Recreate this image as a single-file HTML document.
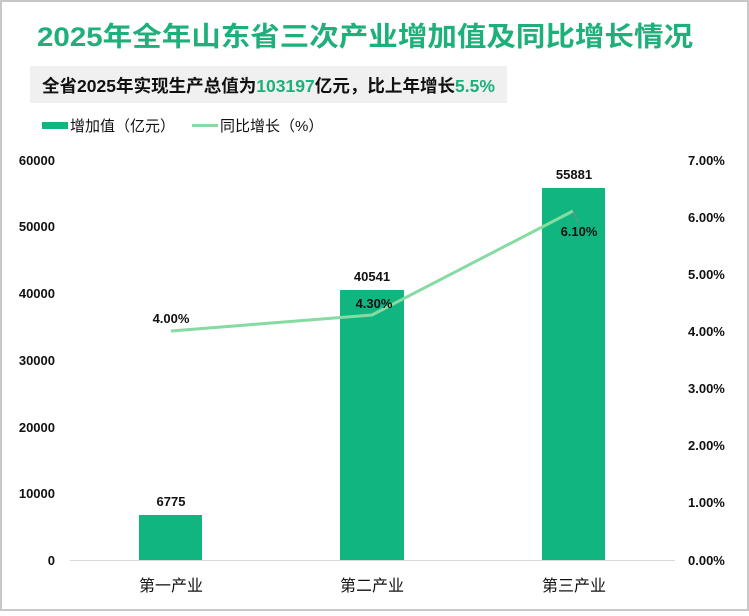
<!DOCTYPE html>
<html><head><meta charset="utf-8"><style>
body{margin:0;background:#fff}
svg text{font-family:"Liberation Sans","Noto Sans CJK SC",sans-serif}
</style></head><body>
<svg width="749" height="611" xmlns="http://www.w3.org/2000/svg">
<rect x="1" y="1" width="747" height="609" fill="#fff" stroke="#c8c8c8" stroke-width="2"/>
<text x="37" y="46" font-size="27" font-weight="bold" fill="#1db07a" textLength="656" lengthAdjust="spacingAndGlyphs">2025年全年山东省三次产业增加值及同比增长情况</text>
<rect x="30" y="66" width="477" height="37" fill="#f0f0f0"/>
<text x="42" y="92" font-size="17.5" font-weight="bold" fill="#111" textLength="453" lengthAdjust="spacingAndGlyphs">全省2025年实现生产总值为<tspan fill="#1db07a">103197</tspan>亿元，比上年增长<tspan fill="#1db07a">5.5%</tspan></text>
<rect x="42" y="122" width="26" height="7" fill="#10b57f"/>
<text x="70" y="131" font-size="15" fill="#111">增加值（亿元）</text>
<line x1="192" y1="125.5" x2="218" y2="125.5" stroke="#86dba3" stroke-width="3"/>
<text x="220" y="131" font-size="15" fill="#111">同比增长（%）</text>
<g font-size="13" font-weight="bold" fill="#111" text-anchor="end">
<text x="55" y="165">60000</text><text x="55" y="231">50000</text><text x="55" y="298">40000</text>
<text x="55" y="365">30000</text><text x="55" y="432">20000</text><text x="55" y="498">10000</text><text x="55" y="565">0</text>
</g>
<g font-size="13" font-weight="bold" fill="#111">
<text x="688" y="165">7.00%</text><text x="688" y="222">6.00%</text><text x="688" y="279">5.00%</text>
<text x="688" y="336">4.00%</text><text x="688" y="393">3.00%</text><text x="688" y="450">2.00%</text>
<text x="688" y="507">1.00%</text><text x="688" y="565">0.00%</text>
</g>
<line x1="70" y1="560.5" x2="675" y2="560.5" stroke="#d9d9d9" stroke-width="1"/>
<rect x="139" y="515" width="63" height="45" fill="#10b57f"/>
<rect x="340" y="290" width="64" height="270" fill="#10b57f"/>
<rect x="542" y="188" width="63" height="372" fill="#10b57f"/>
<g font-size="13" font-weight="bold" fill="#111" text-anchor="middle">
<text x="171" y="506">6775</text><text x="372" y="281">40541</text><text x="574" y="179">55881</text>
</g>
<polyline points="171,331 372,315 573,211" fill="none" stroke="#86dba3" stroke-width="3"/>
<line x1="573" y1="211" x2="578" y2="222" stroke="#888" stroke-width="1"/>
<g font-size="13" font-weight="bold" fill="#111" text-anchor="middle">
<text x="171" y="323">4.00%</text><text x="374" y="308">4.30%</text><text x="579" y="236">6.10%</text>
</g>
<g font-size="16" fill="#111" text-anchor="middle">
<text x="171" y="591">第一产业</text><text x="372" y="591">第二产业</text><text x="574" y="591">第三产业</text>
</g>
</svg>
</body></html>
